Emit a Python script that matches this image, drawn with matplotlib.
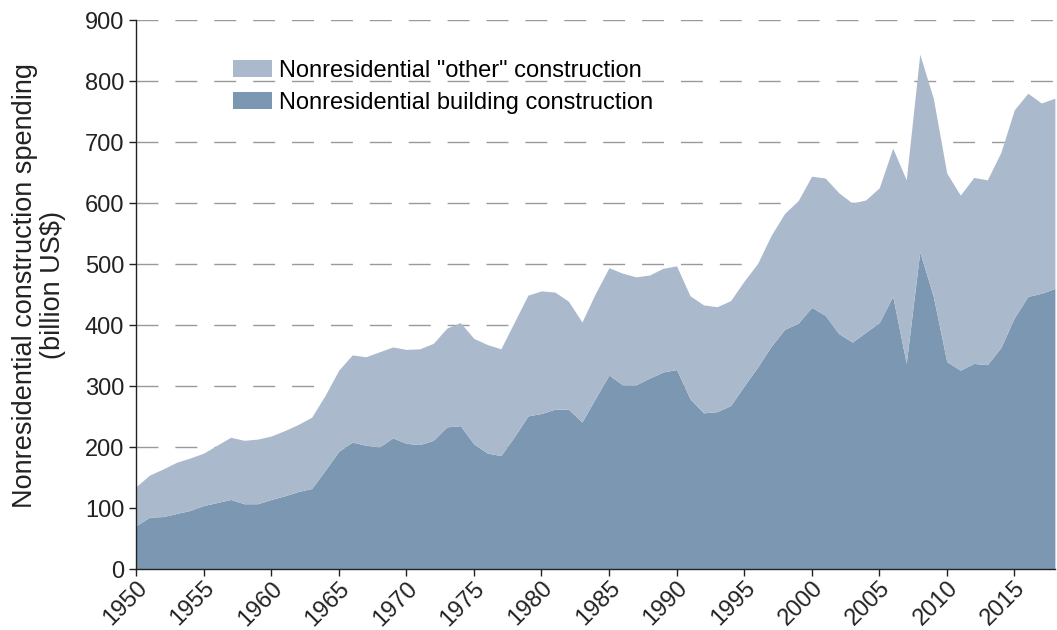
import numpy as np
import matplotlib
matplotlib.use('Agg')
import matplotlib.pyplot as plt
from matplotlib.patches import Patch

plt.rcParams['font.family'] = ['Liberation Sans', 'DejaVu Sans']

years = np.arange(1950, 2019)

# nonresidential building construction (bottom layer)
building = [71, 85, 86, 91, 96, 104, 109, 114, 107, 107,
            114, 120, 127, 132, 162, 193, 208, 203, 200, 215,
            206, 204, 211, 233, 235, 205, 190, 186, 217, 251,
            255, 262, 262, 241, 280, 318, 302, 302, 313, 323,
            327, 279, 256, 258, 268, 300, 331, 365, 393, 403,
            429, 416, 386, 372, 388, 404, 447, 337, 520, 447,
            340, 326, 337, 335, 363, 412, 447, 452, 460]

# top of the stack (building + "other")
total = [135, 154, 164, 175, 182, 190, 203, 216, 211, 213,
         218, 227, 237, 249, 285, 326, 351, 348, 356, 364,
         360, 361, 370, 395, 404, 378, 368, 361, 405, 449,
         456, 454, 439, 405, 452, 494, 485, 479, 482, 493,
         497, 448, 433, 430, 440, 472, 501, 547, 583, 604,
         644, 641, 617, 600, 605, 625, 690, 638, 844, 772,
         649, 613, 642, 638, 683, 753, 780, 764, 772]

labels = ['Nonresidential "other" construction', 'Nonresidential building construction']
col_other = '#aabacc'
col_build = '#7b97b2'

fig = plt.figure(figsize=(10.57, 6.3), dpi=100)
ax = fig.add_axes([0.1287, 0.0968, 0.8693, 0.8714])

ax.fill_between(years, 0, building, color=col_build, lw=0, zorder=2)
ax.fill_between(years, building, total, color=col_other, lw=0, zorder=2)

ax.set_xlim(1950, 2018)
ax.set_ylim(0, 900)
ax.set_yticks(range(0, 901, 100))
ax.set_xticks(range(1950, 2016, 5))
ax.yaxis.grid(True, color='#999999', lw=1.0, linestyle=(0, (15.8, 12.2)), zorder=0)
ax.set_axisbelow(True)

for s in ['top', 'right']:
    ax.spines[s].set_visible(False)
for s in ['left', 'bottom']:
    ax.spines[s].set_color('#222222')
    ax.spines[s].set_linewidth(1.0)
    ax.spines[s].set_zorder(3)

ax.tick_params(axis='both', direction='out', length=5, width=1, labelsize=17, colors='#222222')
ax.tick_params(axis='x', pad=1)
plt.setp(ax.get_xticklabels(), rotation=45, ha='right', rotation_mode='anchor')

ax.set_ylabel('Nonresidential construction spending\n(billion US$)', fontsize=19.5, color='#222222',
              linespacing=1.1)
ax.yaxis.set_label_coords(-0.076, 0.517)

handles = [Patch(facecolor=col_other, edgecolor='none'), Patch(facecolor=col_build, edgecolor='none')]
ax.legend(handles, labels, loc='upper left', bbox_to_anchor=(0.095, 0.945), frameon=False,
          fontsize=17, handlelength=1.65, handleheight=0.7, handletextpad=0.3, labelspacing=0.42,
          borderaxespad=0)

fig.savefig('out.png', dpi=100)
